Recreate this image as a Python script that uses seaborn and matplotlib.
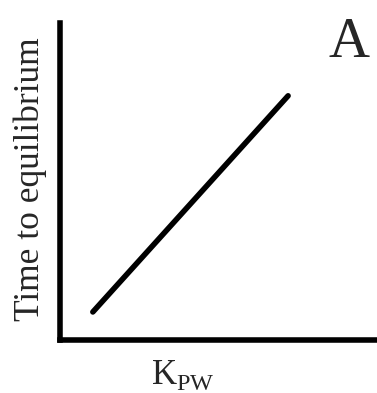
import matplotlib
matplotlib.use("Agg")
import matplotlib.pyplot as plt
import seaborn as sns

# values (axes run 0..1, no ticks)
kpw = [0.105, 0.72]
time_to_eq = [0.087, 0.77]
panel = "A"
xlabel = r"K$_{\mathrm{PW}}$"
ylabel = "Time to equilibrium"

sns.set_style("white")
plt.rcParams["font.family"] = ["Liberation Serif", "DejaVu Serif"]
plt.rcParams["mathtext.fontset"] = "custom"
plt.rcParams["mathtext.rm"] = "Liberation Serif"

fig = plt.figure(figsize=(3.77, 3.93), dpi=100)
ax = fig.add_axes([59.5 / 377, 53.5 / 393, 1 - 59.5 / 377, 316.5 / 393])

sns.lineplot(x=kpw, y=time_to_eq, ax=ax, color="black", linewidth=4)
ax.set_xlim(0, 1)
ax.set_ylim(0, 1)
ax.set_xticks([])
ax.set_yticks([])

for side in ["top", "right"]:
    ax.spines[side].set_visible(False)
for side in ["left", "bottom"]:
    ax.spines[side].set_linewidth(4)
    ax.spines[side].set_color("black")
    ax.spines[side].set_capstyle("projecting")

ax.set_xlabel(xlabel, fontsize=25)
ax.xaxis.set_label_coords(0.39, -0.06, transform=ax.transAxes)
ax.xaxis.label.set_verticalalignment("top")
ax.set_ylabel(ylabel, fontsize=25.5)
ax.yaxis.set_label_coords(-0.092, 0.505)
ax.yaxis.label.set_verticalalignment("center")

ax.text(0.975, 1.02, panel, transform=ax.transAxes, fontsize=41,
        ha="right", va="top")

fig.savefig("out.png", dpi=100)
